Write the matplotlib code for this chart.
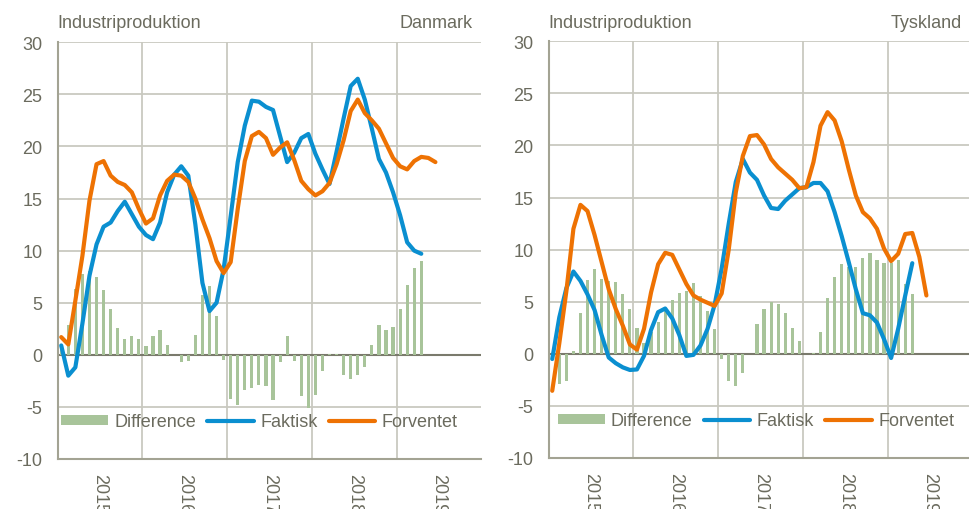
import numpy as np
import matplotlib
matplotlib.use("Agg")
import matplotlib.pyplot as plt
from matplotlib import font_manager

# ---------------- data ----------------
years = ["2015", "2016", "2017", "2018", "2019"]
series_names = ["Difference", "Faktisk", "Forventet"]
panel_titles = ["Industriproduktion", "Industriproduktion"]
panel_countries = ["Danmark", "Tyskland"]

# Danmark (monthly, from Jan 2015)
dk_difference = [0.8, 2.9, 6.3, 7.8, 8.0, 7.5, 6.2, 4.4, 2.6, 1.5,
                 1.85, 1.5, 0.85, 1.8, 2.35, 0.9, 0.0, -0.7, -0.55, 1.9,
                 5.7, 6.6, 3.7, -0.5, -4.2, -4.8, -3.4, -3.2, -2.9, -2.95,
                 -4.3, -0.65, 1.8, -0.55, -4.0, -5.1, -3.85, -1.6, 0.1, 0.1,
                 -1.9, -2.3, -1.9, -1.2, 0.9, 2.85, 2.35, 2.7, 4.4, 6.7,
                 8.3, 9.0]
dk_faktisk = [0.9, -2.0, -1.2, 3.0, 7.6, 10.6, 12.3, 12.7, 13.8, 14.7,
              13.5, 12.3, 11.5, 11.1, 12.7, 15.6, 17.3, 18.1, 17.2, 12.5,
              6.9, 4.2, 5.0, 8.2, 13.3, 18.5, 22.0, 24.4, 24.3, 23.8,
              23.5, 21.0, 18.5, 19.4, 20.8, 21.2, 19.3, 17.8, 16.4, 19.5,
              22.7, 25.8, 26.5, 24.5, 21.7, 18.8, 17.5, 15.6, 13.4, 10.8,
              10.0, 9.7]
dk_forventet = [1.7, 1.0, 5.2, 9.5, 14.8, 18.3, 18.6, 17.2, 16.6, 16.3,
                15.6, 14.0, 12.6, 13.1, 15.3, 16.7, 17.3, 17.2, 16.6, 15.0,
                13.0, 11.2, 9.0, 7.85, 8.9, 14.0, 18.6, 21.0, 21.4, 20.8,
                19.2, 19.9, 20.4, 18.7, 16.7, 15.9, 15.3, 15.7, 16.5, 18.3,
                20.6, 23.4, 24.5, 23.2, 22.5, 21.7, 20.3, 18.9, 18.1, 17.8,
                18.6, 19.0, 18.9, 18.5]

# Tyskland
de_difference = [0.0, -2.9, -2.6, 0.25, 3.9, 7.1, 8.1, 7.2, 7.0, 6.9,
                 5.7, 4.35, 2.5, 1.0, 2.1, 3.1, 4.2, 5.2, 5.85, 6.05,
                 6.8, 5.55, 4.1, 2.4, -0.5, -2.6, -3.1, -1.8, 0.0, 2.85,
                 4.3, 5.0, 4.8, 3.9, 2.5, 1.2, 0.0, 0.1, 2.05, 5.4,
                 7.4, 8.6, 8.3, 8.3, 9.2, 9.7, 9.0, 8.7, 8.75, 9.0,
                 6.7, 5.7]
de_faktisk = [-0.5, 3.5, 6.3, 7.9, 7.0, 5.7, 4.2, 1.8, -0.35, -0.9,
              -1.3, -1.55, -1.5, -0.2, 2.3, 4.0, 4.35, 3.4, 1.8, -0.2,
              -0.1, 0.8, 2.4, 4.7, 8.2, 12.5, 16.5, 18.7, 17.4, 16.7,
              15.2, 14.0, 13.9, 14.7, 15.3, 15.9, 16.0, 16.4, 16.4, 15.6,
              13.6, 11.3, 8.8, 6.2, 3.9, 3.7, 3.0, 1.4, -0.4, 2.4,
              5.6, 8.7]
de_forventet = [-3.55, 1.0, 6.0, 12.0, 14.3, 13.7, 11.4, 8.8, 6.2, 4.3,
                2.7, 0.9, 0.4, 2.4, 5.9, 8.6, 9.7, 9.5, 8.1, 6.7,
                5.6, 5.2, 4.9, 4.6, 5.8, 10.0, 15.5, 19.0, 20.9, 21.0,
                20.1, 18.7, 17.9, 17.3, 16.7, 15.9, 16.0, 18.4, 21.9, 23.2,
                22.4, 20.4, 17.7, 15.2, 13.6, 13.0, 12.0, 10.1, 8.9, 9.6,
                11.5, 11.6, 9.3, 5.6]

y_ticks = [-10, -5, 0, 5, 10, 15, 20, 25, 30]

# ---------------- style ----------------
available = {f.name for f in font_manager.fontManager.ttflist}
if "Liberation Sans Narrow" in available:
    FONT = ["Liberation Sans Narrow", "DejaVu Sans"]
    FS = 14.5
else:
    FONT = ["Liberation Sans", "DejaVu Sans"]
    FS = 13
plt.rcParams["font.family"] = FONT

C_BAR = "#a8c49a"
C_BLUE = "#0a8fd0"
C_ORANGE = "#ee7203"
C_GRID = "#c9c9c0"
C_SPINE = "#a3a393"
C_ZERO = "#7a7a6c"
C_TEXT = "#6b6b5e"

fig = plt.figure(figsize=(9.69, 5.10), dpi=100)

panels = [
    (dict(left=57.7, top=43.3, bottom=460.0), dk_difference, dk_faktisk, dk_forventet, 0, 3.5, 473),
    (dict(left=548.7, top=42.3, bottom=459.0), de_difference, de_faktisk, de_forventet, 1, 9.0, 962),
]
W, H = 969.0, 510.0
axw = 423.6

for geo, diff, fak, forv, k, leg_off, right_txt in panels:
    ax = fig.add_axes([geo["left"] / W, (H - geo["bottom"]) / H, axw / W,
                       (geo["bottom"] - geo["top"]) / H])
    ax.set_xlim(0, 60)
    ax.set_ylim(-10, 30)
    ax.set_yticks(y_ticks)
    ax.set_yticklabels([str(v) for v in y_ticks])
    ax.set_xticks([6 + 12 * j for j in range(len(years))])
    ax.set_xticklabels(years, rotation=-90, va="top", ha="center")
    for v in y_ticks[1:]:
        ax.axhline(v, color=C_GRID, lw=1.3, zorder=0)
    for xv in [12, 24, 36, 48]:
        ax.axvline(xv, color=C_GRID, lw=1.3, zorder=0)
    ax.axhline(0, color=C_ZERO, lw=1.5, zorder=1)
    for s in ["top", "right"]:
        ax.spines[s].set_visible(False)
    for s in ["left", "bottom"]:
        ax.spines[s].set_color(C_SPINE)
        ax.spines[s].set_linewidth(1.5)
    ax.tick_params(axis="both", length=0, labelsize=FS, colors=C_TEXT)
    ax.tick_params(axis="y", pad=11)
    ax.tick_params(axis="x", pad=10)

    xb = np.arange(len(diff)) + 0.5
    h_bar = ax.bar(xb, diff, width=0.45, color=C_BAR, zorder=2, label=series_names[0])
    h_fak, = ax.plot(np.arange(len(fak)) + 0.5, fak, color=C_BLUE, lw=3.0, zorder=3,
                     solid_joinstyle="round", solid_capstyle="round", label=series_names[1])
    h_forv, = ax.plot(np.arange(len(forv)) + 0.5, forv, color=C_ORANGE, lw=3.0, zorder=4,
                      solid_joinstyle="round", solid_capstyle="round", label=series_names[2])

    leg = ax.legend([h_bar, h_fak, h_forv], series_names,
                    loc="center left", bbox_to_anchor=(leg_off / axw, 0.089),
                    ncol=3, frameon=False, fontsize=FS, handlelength=2.6,
                    handleheight=0.55, handletextpad=0.35, columnspacing=0.6,
                    borderaxespad=0, borderpad=0)
    for t in leg.get_texts():
        t.set_color(C_TEXT)

    fig.text(geo["left"] / W, 1 - 23 / H, panel_titles[k], fontsize=FS,
             color=C_TEXT, ha="left", va="center")
    fig.text(right_txt / W, 1 - 23 / H, panel_countries[k], fontsize=FS,
             color=C_TEXT, ha="right", va="center")

fig.savefig("out.png", dpi=100)
